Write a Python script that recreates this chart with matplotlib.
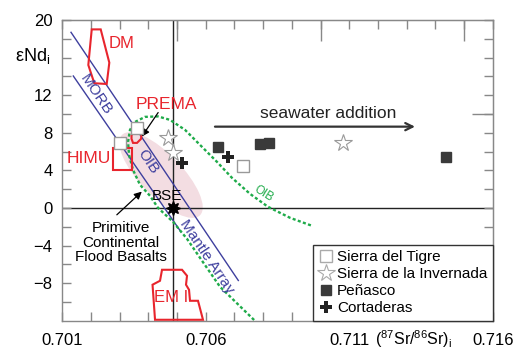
import numpy as np
import matplotlib
matplotlib.use('Agg')
import matplotlib.pyplot as plt
from matplotlib.patches import Ellipse, Polygon, Rectangle
from matplotlib.transforms import ScaledTranslation, blended_transform_factory
from matplotlib.lines import Line2D

plt.rcParams['font.family'] = ['Liberation Sans', 'DejaVu Sans']
plt.rcParams['mathtext.fontset'] = 'custom'
plt.rcParams['mathtext.rm'] = 'Liberation Sans'
plt.rcParams['mathtext.it'] = 'Liberation Sans:italic'

# ---------------- data ----------------
tigre_sr = [0.70731, 0.70359, 0.70301]
tigre_nd = [4.5, 8.5, 6.9]
invernada_sr = [0.70469, 0.70487, 0.71079]
invernada_nd = [7.4, 5.8, 6.95]
penasco_sr = [0.70644, 0.70789, 0.70821, 0.71437]
penasco_nd = [6.5, 6.8, 6.9, 5.4]
cortaderas_sr = [0.70516, 0.70679]
cortaderas_nd = [4.75, 5.45]

bse_sr, bse_nd = 0.70487, 0.0

dm_sr = [0.702025, 0.702338, 0.702638, 0.702547, 0.702115, 0.701906]
dm_nd = [19.0, 19.0, 15.46, 13.19, 13.27, 15.21]

prema_sr = [0.703464, 0.703638, 0.703760, 0.703743, 0.703603, 0.703464, 0.703412, 0.703412]
prema_nd = [8.0, 8.14, 7.81, 7.35, 6.92, 6.92, 7.35, 7.71]

himu_sr = [0.702757, 0.703419]
himu_nd = [4.05, 6.36]

em1_sr = [0.704475, 0.705172, 0.705346, 0.705311, 0.705416, 0.705450, 0.705729,
          0.705903, 0.704231, 0.704144, 0.704405]
em1_nd = [-6.58, -6.58, -7.22, -8.17, -8.71, -9.88, -9.88, -11.9, -11.9, -8.17, -7.75]

array_upper_sr = [0.701303, 0.707134]
array_upper_nd = [18.69, -7.72]
array_lower_sr = [0.701383, 0.705133]
array_lower_nd = [14.04, -2.54]

oib_sr = [0.707820, 0.706496, 0.705799, 0.705346, 0.704858, 0.704335, 0.704056, 0.703708,
          0.703464, 0.703325, 0.703290, 0.703359, 0.703534, 0.703882, 0.704335, 0.704754,
          0.705276, 0.705799, 0.706391, 0.706914, 0.707542, 0.708169, 0.708936, 0.709702]
oib_nd = [-12.33, -8.39, -5.31, -3.29, -1.48, 0.01, 1.29, 2.46, 4.05, 5.65, 7.03, 8.31,
          9.15, 9.69, 9.74, 9.37, 8.31, 6.71, 4.90, 3.20, 1.50, 0.12, -1.05, -1.90]

pcfb_center = (0.70444, 3.5)

xtick_vals = [0.701, 0.706, 0.711, 0.716]
xtick_labels = ['0.701', '0.706', '0.711', '0.716']
ytick_vals = [20, 12, 8, 4, 0, -4, -8]
ytick_labels = ['20', '12', '8', '4', '0', '\u22124', '\u22128']

legend_labels = ['Sierra del Tigre', 'Sierra de la Invernada', 'Pe\u00f1asco', 'Cortaderas']

# ---------------- figure ----------------
RED = '#e8252d'
BLUE = '#3e3f9e'
GREEN = '#1fab4a'
GRAY = '#888888'

fig = plt.figure(figsize=(5.18, 3.52), dpi=100)
ax = fig.add_axes([0.1203, 0.0889, 0.8309, 0.8543])
ax.set_xlim(0.701, 0.716)
ax.set_ylim(-12, 20)

for s in ax.spines.values():
    s.set_color(GRAY)
    s.set_linewidth(1.0)

# ticks
ax.set_xticks(xtick_vals)
ax.set_xticklabels(xtick_labels)
ax.set_xticks(np.round(np.arange(0.702, 0.7155, 0.001), 3), minor=True)
ax.set_yticks(ytick_vals)
ax.set_yticklabels(ytick_labels)
ax.set_yticks(np.arange(-10, 20, 2), minor=True)
ax.tick_params(axis='both', which='both', direction='in', color=GRAY, width=1,
               top=True, right=True, labelsize=12)
ax.tick_params(axis='x', which='both', length=6.5, pad=9)
ax.tick_params(axis='y', which='both', length=6.5, pad=7)

sec = ax.secondary_xaxis('top')
sec.set_xticks([0.705, 0.710, 0.715])
sec.tick_params(direction='in', length=15, color=GRAY, width=1, labeltop=False)
sec.spines['top'].set_color(GRAY)
secy = ax.secondary_yaxis('right')
secy.set_yticks([10])
secy.tick_params(direction='in', length=15, color=GRAY, width=1, labelright=False)
secy.spines['right'].set_color(GRAY)

# pink field (primitive continental flood basalts)
trans = fig.dpi_scale_trans + ScaledTranslation(pcfb_center[0], pcfb_center[1], ax.transData)
ax.add_patch(Ellipse((0, 0), 1.12, 0.42, angle=-46, transform=trans,
                     facecolor='#f3dde2', edgecolor='none', zorder=0))

# reference lines
ax.axvline(bse_sr, color='#222222', lw=1.0, zorder=1)
ax.axhline(0, color='#222222', lw=1.0, zorder=1)

# mantle array
ax.plot(array_upper_sr, array_upper_nd, color=BLUE, lw=1.0, zorder=2)
ax.plot(array_lower_sr, array_lower_nd, color=BLUE, lw=1.0, zorder=2)

# OIB curve
ax.plot(oib_sr, oib_nd, color=GREEN, lw=1.7, ls=(0, (1.3, 1.0)), zorder=2)

# red fields
ax.add_patch(Polygon(np.column_stack([dm_sr, dm_nd]), closed=True, fill=False,
                     edgecolor=RED, lw=1.5, zorder=3))
ax.add_patch(Polygon(np.column_stack([prema_sr, prema_nd]), closed=True, fill=False,
                     edgecolor=RED, lw=1.5, zorder=3))
ax.add_patch(Rectangle((himu_sr[0], himu_nd[0]), himu_sr[1] - himu_sr[0],
                       himu_nd[1] - himu_nd[0], fill=False, edgecolor=RED, lw=1.5, zorder=3))
ax.add_patch(Polygon(np.column_stack([em1_sr, em1_nd]), closed=True, fill=False,
                     edgecolor=RED, lw=1.5, zorder=3))

# samples
ax.plot(tigre_sr, tigre_nd, ls='none', marker='s', ms=8, mfc='white', mec='#999999',
        mew=1.0, zorder=4)
ax.plot(invernada_sr, invernada_nd, ls='none', marker='*', ms=13, mfc='white',
        mec='#999999', mew=0.8, zorder=4)
ax.plot(penasco_sr, penasco_nd, ls='none', marker='s', ms=7.5, color='#3a3a3a', zorder=4)
ax.plot(cortaderas_sr, cortaderas_nd, ls='none', marker='P', ms=9, color='#222222',
        mew=0, zorder=4)
ax.plot([bse_sr], [bse_nd], ls='none', marker=(8, 1, 0), ms=10, color='black', zorder=5)

# labels
ax.text(0.70307, 17.45, 'DM', color=RED, fontsize=12, ha='center', va='center')
ax.text(0.70462, 10.96, 'PREMA', color=RED, fontsize=12.5, ha='center', va='center')
ax.text(0.70191, 5.22, 'HIMU', color=RED, fontsize=12.5, ha='center', va='center')
ax.text(0.70479, -9.5, 'EM I', color=RED, fontsize=12, ha='center', va='center')
ax.text(0.70218, 12.0, 'MORB', color=BLUE, fontsize=11, ha='center', va='center',
        rotation=-56, rotation_mode='anchor')
ax.text(0.70397, 4.9, 'OIB', color=BLUE, fontsize=11, ha='center', va='center',
        rotation=-56, rotation_mode='anchor')
ax.text(0.70603, -5.17, 'Mantle Array', color=BLUE, fontsize=11, ha='center', va='center',
        rotation=-56, rotation_mode='anchor')
ax.text(0.70803, 1.55, 'OIB', color=GREEN, fontsize=8.5, ha='center', va='center',
        rotation=-32, rotation_mode='anchor')
ax.text(0.70465, 1.29, 'BSE', color='black', fontsize=11, ha='center', va='center')
ax.text(0.70305, -3.71, 'Primitive\nContinental\nFlood Basalts', color='black',
        fontsize=11, ha='center', va='center', linespacing=1.05)
ax.text(0.71026, 10.06, 'seawater addition', color='#222222', fontsize=12.5,
        ha='center', va='center')

# arrows
ax.annotate('', xy=(0.71329, 8.65), xytext=(0.70632, 8.65),
            arrowprops=dict(arrowstyle='->', lw=1.6, color='#333333', mutation_scale=13,
                            shrinkA=0, shrinkB=0))
ax.annotate('', xy=(0.70377, 7.59), xytext=(0.70434, 10.15),
            arrowprops=dict(arrowstyle='-|>', lw=0.9, color='black', mutation_scale=11,
                            shrinkA=0, shrinkB=0))
ax.annotate('', xy=(0.70377, 1.74), xytext=(0.70290, -0.73),
            arrowprops=dict(arrowstyle='-|>', lw=0.9, color='black', mutation_scale=11,
                            shrinkA=0, shrinkB=0))

# axis labels
ax.text(-0.068, 16.2, '\u03b5Nd$_{\\mathregular{i}}$', fontsize=13, ha='center', va='center',
        transform=blended_transform_factory(ax.transAxes, ax.transData))
ax.text(0.815, -0.062, '($^{87}$Sr/$^{86}$Sr)$_{\\mathregular{i}}$', fontsize=11.5,
        ha='center', va='center', transform=ax.transAxes)

# legend
handles = [
    Line2D([], [], ls='none', marker='s', ms=8, mfc='white', mec='#aaaaaa', mew=1.0),
    Line2D([], [], ls='none', marker='*', ms=13, mfc='white', mec='#aaaaaa', mew=0.8),
    Line2D([], [], ls='none', marker='s', ms=7.5, color='#3a3a3a'),
    Line2D([], [], ls='none', marker='P', ms=9, color='#222222', mew=0),
]
leg = ax.legend(handles, legend_labels, loc='lower right', borderaxespad=0, fontsize=11,
                frameon=True, fancybox=False, edgecolor='#333333', framealpha=1,
                handlelength=1.0, handletextpad=0.2, labelspacing=0.2, borderpad=0.35)
leg.get_frame().set_linewidth(1.0)
leg.set_zorder(10)

fig.savefig('out.png', dpi=100)
